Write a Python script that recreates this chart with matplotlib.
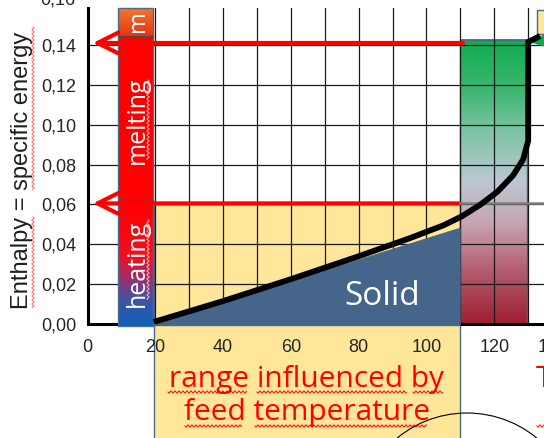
import numpy as np
import matplotlib.pyplot as plt
from matplotlib.colors import LinearSegmentedColormap
from matplotlib.patches import Rectangle, Polygon, Ellipse
from matplotlib.lines import Line2D

# ------------------------------------------------------------
# Daten
# ------------------------------------------------------------
y_ticks = [0.00, 0.02, 0.04, 0.06, 0.08, 0.10, 0.12, 0.14]
y_labels = ["0,00", "0,02", "0,04", "0,06", "0,08", "0,10", "0,12", "0,14"]
x_ticks = [0, 20, 40, 60, 80, 100, 120]
x_labels = ["0", "20", "40", "60", "80", "100", "120"]
x_minor = [10, 30, 50, 70, 90, 110, 130]

# Enthalpiekurve
curve_x = [19.5, 40, 60, 80, 95, 105, 110.4, 116, 121, 125.5, 128.5, 130.0, 130.0, 133.5]
curve_y = [0.001, 0.0115, 0.0225, 0.034, 0.043, 0.0495, 0.054, 0.060, 0.0665, 0.0745,
           0.0825, 0.092, 0.1415, 0.1445]

# Feststoff-Flaeche unter der Kurve
solid_x = [19.5, 109.9, 109.9, 19.5]
solid_y = [0.0, 0.048, -0.0008, -0.0008]

# Pfeile (Enthalpie-Niveaus) und ihre rechten Enden
arrow_levels = [0.141, 0.0605]
arrow_starts = [110.8, 109.9]

column_x = (9.1, 19.3)                 # heating / melting Balken
column_y = [0.0, 0.0615, 0.1445, 0.1586]
feed_x = (19.5, 109.9)                 # Bereich Einzugstemperatur
feed_top = 0.0605
trans_x = (109.9, 129.6)               # Uebergangsbereich
trans_top = 0.1425

W, H = 544, 438
X0, SX = 87.5, 3.39    # px von x=0, px pro Einheit
Y0, SY = 324, 1993     # px von y=0, px pro Einheit

RED = "#ff0000"
EDGE = "#4a6a8c"
YELLOW = "#ffe699"
SOLID = "#45668a"


def fx(px):
    return px / W


def fy(py):
    return 1 - py / H


fig = plt.figure(figsize=(W / 100, H / 100), dpi=100)
ax = fig.add_axes([X0 / W, (H - Y0) / H, 1 - X0 / W, (Y0 - 8) / H])
xmax = (W - X0) / SX
ymax = (Y0 - 8) / SY

# --- Hintergrundflaechen (unter dem Gitter) ---
ax.add_patch(Rectangle((feed_x[0], -0.06), feed_x[1] - feed_x[0], feed_top + 0.06,
                       fc=YELLOW, ec=EDGE, lw=1.0, zorder=1, clip_on=False))

cm_trans = LinearSegmentedColormap.from_list(
    "trans", [(0, "#9e1f32"), (0.18, "#b25a6c"), (0.35, "#c8a2b0"),
              (0.5, "#bcc8d3"), (0.68, "#7cc4a4"), (0.82, "#3db672"), (1, "#0fad4f")])
ax.imshow(np.linspace(0, 1, 256).reshape(-1, 1), extent=(trans_x[0], trans_x[1], 0, trans_top),
          origin="lower", cmap=cm_trans, aspect="auto", zorder=1, interpolation="bilinear")
ax.add_patch(Rectangle((trans_x[0], 0), trans_x[1] - trans_x[0], trans_top,
                       fill=False, ec=EDGE, lw=1.0, zorder=1.2))

# kleines Feld oben rechts
ax.add_patch(Rectangle((132.6, 0.1455), 5, 0.012, fc=YELLOW, ec=EDGE, lw=1.0, zorder=1.2, clip_on=True))

# --- Gitter und Achsen ---
ax.set_xlim(0, xmax)
ax.set_ylim(0, ymax)
ax.set_xticks(x_ticks)
ax.set_xticks(x_minor, minor=True)
ax.set_xticklabels(x_labels, fontsize=13, family="Liberation Sans", color="#262626")
ax.set_yticks(y_ticks)
ax.set_yticklabels(y_labels, fontsize=13, family="Liberation Sans", color="#262626")
ax.grid(True, which="both", axis="x", color="#1a1a1a", lw=0.9)
ax.grid(True, which="major", axis="y", color="#1a1a1a", lw=0.9)
ax.tick_params(which="both", length=0)
ax.tick_params(axis="x", pad=11)
ax.tick_params(axis="y", pad=8)
for s in ["top", "right"]:
    ax.spines[s].set_visible(False)
for s in ["left", "bottom"]:
    ax.spines[s].set_linewidth(2.2)
    ax.spines[s].set_color("black")

# --- heating / melting Balken ---
cm_heat = LinearSegmentedColormap.from_list(
    "heat", [(0, "#1060b8"), (0.2, "#3a55a8"), (0.38, "#9a3070"), (0.55, "#f01020"), (1, RED)])
cm_top = LinearSegmentedColormap.from_list("top", [(0, "#ea3414"), (1, "#f07a30")])
grad = np.linspace(0, 1, 256).reshape(-1, 1)
ax.imshow(grad, extent=(column_x[0], column_x[1], -0.0008, column_y[1]), origin="lower",
          cmap=cm_heat, aspect="auto", zorder=3, interpolation="bilinear", clip_on=False)
ax.add_patch(Rectangle((column_x[0], column_y[1]), column_x[1] - column_x[0],
                       column_y[2] - column_y[1], fc=RED, ec="none", zorder=3))
ax.imshow(grad, extent=(column_x[0], column_x[1], column_y[2], column_y[3]), origin="lower",
          cmap=cm_top, aspect="auto", zorder=3, interpolation="bilinear")
ax.add_patch(Rectangle((column_x[0], -0.0008), column_x[1] - column_x[0], column_y[3] + 0.0008,
                       fill=False, ec=EDGE, lw=1.0, zorder=3.1, clip_on=False))
for yb, c in zip(column_y[1:3], ["#3c4a6a", "#4a5040"]):
    ax.plot(column_x, [yb, yb], color=c, lw=1.0, zorder=3.1)

cx = (column_x[0] + column_x[1]) / 2 + 0.6
ax.text(cx, 0.0305, "heating", rotation=90, ha="center", va="center", color="white",
        fontsize=18, family="Open Sans", zorder=4)
ax.text(cx, 0.1025, "melting", rotation=90, ha="center", va="center", color="white",
        fontsize=18, family="Open Sans", zorder=4)
ax.text(cx, 0.1465, "m", rotation=90, ha="center", va="bottom", color="white",
        fontsize=17, family="Open Sans", zorder=4)

# --- Feststoff ---
ax.add_patch(Polygon(np.column_stack([solid_x, solid_y]), closed=True, fc=SOLID,
                     ec=EDGE, lw=0.8, zorder=3, clip_on=False))
ax.text(87.0, 0.0095, "Solid", ha="center", va="baseline", color="white",
        fontsize=24, family="Open Sans", zorder=4)

# --- Pfeile ---
for lvl, x_start in zip(arrow_levels, arrow_starts):
    ax.annotate("", xy=(1.6, lvl), xytext=(x_start, lvl),
                arrowprops=dict(arrowstyle="->,head_length=1.5,head_width=0.75",
                                color=RED, lw=3.0, shrinkA=0, shrinkB=0),
                zorder=5)
ax.plot([trans_x[0], xmax], [0.0605, 0.0605], color="#7f7f7f", lw=1.8, zorder=5)

# gruener Pfeil oben rechts
ax.add_patch(Polygon([(129.8, 0.1418), (136, 0.1462), (136, 0.1385)], closed=True,
                     fc="#12a84f", ec="none", zorder=5))

# --- Kurve ---
ax.plot(curve_x, curve_y, color="black", lw=4.2, solid_capstyle="butt",
        solid_joinstyle="round", zorder=6)

# --- Beschriftungen ausserhalb ---
fig.text(fx(22), fy(170), "Enthalpy = specific energy", rotation=90, ha="center", va="center",
         fontsize=17, family="Liberation Sans", color="#1f1f1f")
fig.text(fx(75), fy(0), "0,16", ha="right", va="center", fontsize=13,
         family="Liberation Sans", color="#262626")
fig.text(fx(553), fy(347), "140", ha="center", va="center", fontsize=13,
         family="Liberation Sans", color="#262626")

fmid = X0 + SX * (feed_x[0] + feed_x[1]) / 2
fig.text(fx(fmid), fy(387), "range influenced by", ha="center", va="baseline",
         fontsize=21.5, family="Open Sans", color=RED)
fig.text(fx(fmid), fy(420), "feed temperature", ha="center", va="baseline",
         fontsize=21.5, family="Open Sans", color=RED)
fig.text(fx(536), fy(387), "T", ha="left", va="baseline", fontsize=21.5,
         family="Open Sans", color=RED)

# Rechtschreib-Wellenlinien


def squiggle(a0, a1, c, vertical=False, color=RED, lw=0.7):
    t = np.arange(a0, a1, 0.5)
    w = c + 1.1 * np.sin(2 * np.pi * (t - a0) / 4.0)
    if vertical:
        xs, ys = w, t
    else:
        xs, ys = t, w
    fig.add_artist(Line2D(fx(xs), fy(ys), transform=fig.transFigure, color=color, lw=lw))


squiggle(27, 190, 33, vertical=True, color="#ff6060")
squiggle(217, 308, 33, vertical=True, color="#ff6060")
for a0, a1 in [(168, 247), (257, 407), (413, 443)]:
    squiggle(a0, a1, 392)
for a0, a1 in [(185, 242), (255, 427), (537, 544)]:
    squiggle(a0, a1, 426)
squiggle(80, 160, 148, vertical=True, color="#ffb0b0")
squiggle(220, 300, 148, vertical=True, color="#ffb0b0")

# Kreis unten rechts
fig.add_artist(Ellipse((fx(467), fy(523)), 220 / W, 220 / H, transform=fig.transFigure,
                       fill=False, ec="black", lw=0.8))

fig.savefig("out.png", dpi=100)
